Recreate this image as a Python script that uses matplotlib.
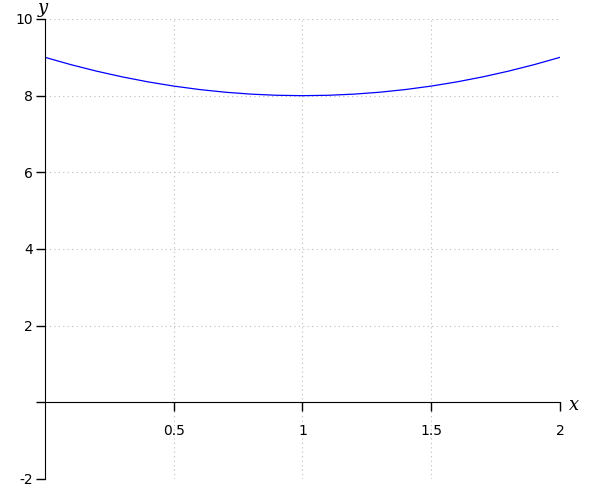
import matplotlib
matplotlib.use("Agg")
import matplotlib.pyplot as plt

plt.rcParams['mathtext.fontset'] = 'dejavuserif'

## --- values
x_vals = [0.0, 0.1, 0.2, 0.3, 0.4, 0.5, 0.6, 0.7, 0.8, 0.9, 1.0,
          1.1, 1.2, 1.3, 1.4, 1.5, 1.6, 1.7, 1.8, 1.9, 2.0]
y_vals = [9.0, 8.81, 8.64, 8.49, 8.36, 8.25, 8.16, 8.09, 8.04, 8.01, 8.0,
          8.01, 8.04, 8.09, 8.16, 8.25, 8.36, 8.49, 8.64, 8.81, 9.0]
x_ticks = [0.5, 1, 1.5, 2]
x_tick_labels = ["0.5", "1", "1.5", "2"]
y_ticks = [-2, 0, 2, 4, 6, 8, 10]
y_tick_labels = ["-2", "", "2", "4", "6", "8", "10"]

fig = plt.figure(figsize=(6, 5), dpi=100)
ax = fig.add_axes([0.075, 0.042, 0.8583, 0.92])

ax.plot(x_vals, y_vals, color="blue", lw=0.9)

ax.set_xlim(0, 2)
ax.set_ylim(-2, 10)
ax.set_xticks(x_ticks)
ax.set_xticklabels(x_tick_labels)
ax.set_yticks(y_ticks)
ax.set_yticklabels(y_tick_labels)

# axes crossing at y=0, sage style
ax.spines['top'].set_visible(False)
ax.spines['right'].set_visible(False)
ax.spines['bottom'].set_position(('data', 0))
ax.tick_params(axis='both', direction='out', length=6.5, width=1,
               labelsize=10, colors='black')
ax.tick_params(axis='x', pad=9)
ax.tick_params(axis='y', pad=2)

ax.grid(True, linestyle=(0, (1, 3)), color='#bbbbbb', lw=0.8)
ax.set_axisbelow(True)

fig.text(0.072, 0.998, r"$y$", fontsize=13, ha='center', va='top')
fig.text(0.957, 0.19, r"$x$", fontsize=13, ha='center', va='center')

plt.savefig("out.png", dpi=100)
